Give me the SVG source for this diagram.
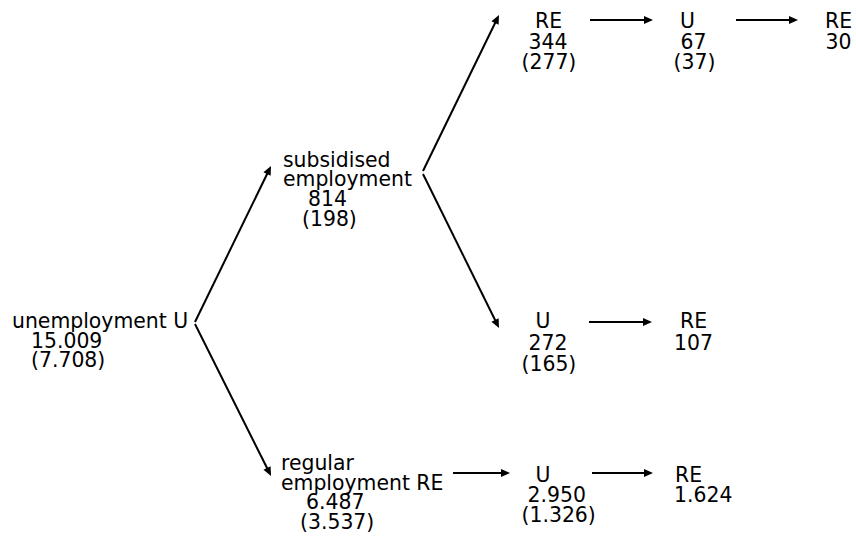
<svg xmlns="http://www.w3.org/2000/svg" width="856" height="537" viewBox="0 0 856 537">
<defs>
<marker id="ah" markerUnits="userSpaceOnUse" markerWidth="12" markerHeight="10" viewBox="0 0 10 10" refX="4" refY="5" orient="auto">
<path d="M0,1 L9,5 L0,9 Z" fill="#000"/>
</marker>
</defs>
<style>
text{font-family:"DejaVu Sans",sans-serif;font-size:20.4px;fill:#000}
.c line{stroke:#000;stroke-width:2;marker-end:url(#ah)}
</style>
<rect width="856" height="537" fill="#fff"/>
<g class="c" id="connectors">
<line x1="195" y1="322" x2="268.8" y2="170.5"/>
<line x1="195" y1="324" x2="268.8" y2="471.5"/>
<line x1="423" y1="171" x2="496.8" y2="19.5"/>
<line x1="423" y1="174" x2="496.8" y2="323.5"/>
<line x1="590" y1="20" x2="648" y2="20"/>
<line x1="736" y1="20" x2="793" y2="20"/>
<line x1="589" y1="322" x2="647" y2="322"/>
<line x1="453" y1="473" x2="505" y2="473"/>
<line x1="592" y1="473" x2="648" y2="473"/>
</g>
<g id="n-unemp">
<text x="12" y="328">unemployment U</text>
<text x="31" y="348">15.009</text>
<text x="31" y="367">(7.708)</text>
</g>
<g id="n-subs">
<text x="283" y="167">subsidised</text>
<text x="283" y="186">employment</text>
<text x="308" y="206">814</text>
<text x="302" y="226">(198)</text>
</g>
<g id="n-reg">
<text x="281" y="470">regular</text>
<text x="281" y="490">employment RE</text>
<text x="306" y="509">6.487</text>
<text x="300" y="529">(3.537)</text>
</g>
<g id="n-re1">
<text x="535" y="28">RE</text>
<text x="528.5" y="48.5">344</text>
<text x="521.5" y="69">(277)</text>
</g>
<g id="n-u1">
<text x="680" y="28">U</text>
<text x="680.5" y="48.5">67</text>
<text x="673.5" y="69">(37)</text>
</g>
<g id="n-re1b">
<text x="825" y="28">RE</text>
<text x="825.5" y="48.5">30</text>
</g>
<g id="n-u2">
<text x="535.5" y="328">U</text>
<text x="528.5" y="350">272</text>
<text x="521.5" y="371">(165)</text>
</g>
<g id="n-re2">
<text x="680" y="328">RE</text>
<text x="674" y="350">107</text>
</g>
<g id="n-u3">
<text x="535.5" y="482">U</text>
<text x="527.5" y="502">2.950</text>
<text x="521.5" y="522">(1.326)</text>
</g>
<g id="n-re3">
<text x="675" y="482">RE</text>
<text x="674" y="502">1.624</text>
</g>
</svg>
